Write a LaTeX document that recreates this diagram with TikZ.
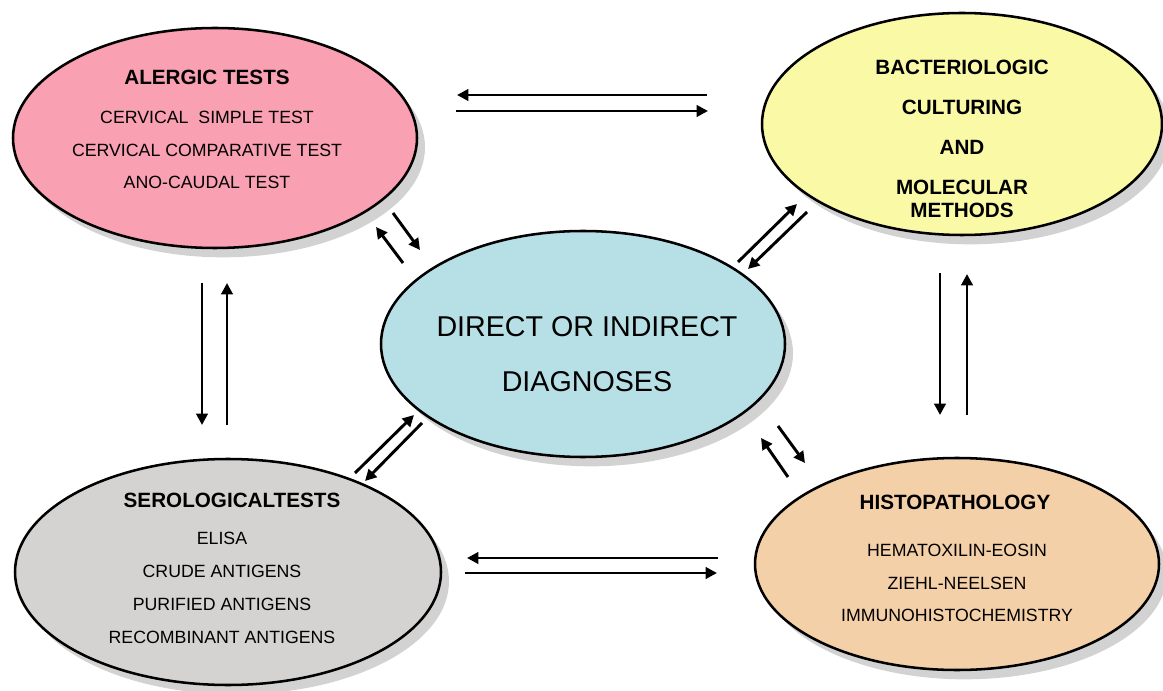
\documentclass[tikz,border=0pt]{standalone}
\usepackage{fontspec}
\setmainfont{Liberation Sans}
\usetikzlibrary{arrows.meta,shapes.geometric,shadows}
\definecolor{alergicpink}{RGB}{249,160,178}
\definecolor{bactyellow}{RGB}{250,249,166}
\definecolor{diagblue}{RGB}{183,224,230}
\definecolor{serogray}{RGB}{213,210,210}
\definecolor{histopeach}{RGB}{244,208,168}
\tikzset{
  blob/.style={ellipse, draw, line width=1.9pt, inner sep=0pt,
    drop shadow={shadow xshift=6pt, shadow yshift=-7pt, fill=black!35}},
  title/.style={font=\fontsize{15.5}{30}\selectfont\bfseries, align=center, inner sep=0pt},
  list/.style={font=\fontsize{13.3}{24.6}\selectfont, align=center, inner sep=0pt},
  arr/.style={line width=2.2pt, -{Triangle[length=8.5pt,width=8.5pt]}}
}
\begin{document}
\begin{tikzpicture}[x=0.75pt, y=-0.75pt]
	\useasboundingbox (0,0) rectangle (1163,691);
	% the five ellipses
	\node[blob, fill=alergicpink, minimum width=303pt, minimum height=165pt] (alergic) at (215,138) {};
	\node[blob, fill=bactyellow, minimum width=300pt, minimum height=166.5pt] (bact) at (962,124) {};
	\node[blob, fill=diagblue, minimum width=303pt, minimum height=169.5pt] (diag) at (583,344) {};
	\node[blob, fill=serogray, minimum width=319.5pt, minimum height=169.5pt] (sero) at (228,572) {};
	\node[blob, fill=histopeach, minimum width=303pt, minimum height=159pt] (histo) at (957,564) {};
	% texts
	\node[title] (alergic-title) at (207,77) {ALERGIC TESTS};
	\node[list] (alergic-list) at (207,150) {CERVICAL~~SIMPLE TEST\\CERVICAL COMPARATIVE TEST\\ANO-CAUDAL TEST};
	\node[title] (bact-title) at (962,138.5) {BACTERIOLOGIC\\CULTURING\\AND\\MOLECULAR\\[-12.75pt]METHODS};
	\node[align=center, inner sep=0pt, font=\fontsize{21.5}{41.25}\selectfont] (diag-title) at (587,354.5) {DIRECT OR INDIRECT\\DIAGNOSES};
	\node[title] (sero-title) at (232,500) {SEROLOGICALTESTS};
	\node[list] (sero-list) at (222,588) {ELISA\\CRUDE ANTIGENS\\PURIFIED ANTIGENS\\RECOMBINANT ANTIGENS};
	\node[title] (histo-title) at (955,502) {HISTOPATHOLOGY};
	\node[list] (histo-list) at (957,583) {HEMATOXILIN-EOSIN\\ZIEHL-NEELSEN\\IMMUNOHISTOCHEMISTRY};
	% arrow ends
	\coordinate (ab-a) at (707,95);  \coordinate (ab-b) at (457,95);
	\coordinate (ab-c) at (456,111); \coordinate (ab-d) at (708,111);
	\coordinate (as-a) at (202,283); \coordinate (as-b) at (202,425);
	\coordinate (as-c) at (227,425); \coordinate (as-d) at (227,283);
	\coordinate (bh-a) at (940,273); \coordinate (bh-b) at (940,415);
	\coordinate (bh-c) at (967,415); \coordinate (bh-d) at (967,274);
	\coordinate (sh-a) at (718,558); \coordinate (sh-b) at (467,558);
	\coordinate (sh-c) at (465,573); \coordinate (sh-d) at (717,573);
	\coordinate (ad-a) at (393,213); \coordinate (ad-b) at (420,250);
	\coordinate (ad-c) at (403,263); \coordinate (ad-d) at (376,227);
	\coordinate (bd-a) at (738,262); \coordinate (bd-b) at (797,204);
	\coordinate (bd-c) at (807,212); \coordinate (bd-d) at (748,269);
	\coordinate (sd-a) at (355,473); \coordinate (sd-b) at (414,415);
	\coordinate (sd-c) at (422,423); \coordinate (sd-d) at (365,481);
	\coordinate (hd-a) at (778,426); \coordinate (hd-b) at (805,463);
	\coordinate (hd-c) at (788,477); \coordinate (hd-d) at (761,438);
	% arrows
	\foreach \p in {ab,as,bh,sh,ad,bd,sd,hd} {
	  \draw[arr] (\p-a) -- (\p-b);
	  \draw[arr] (\p-c) -- (\p-d);
	}
\end{tikzpicture}
\end{document}
